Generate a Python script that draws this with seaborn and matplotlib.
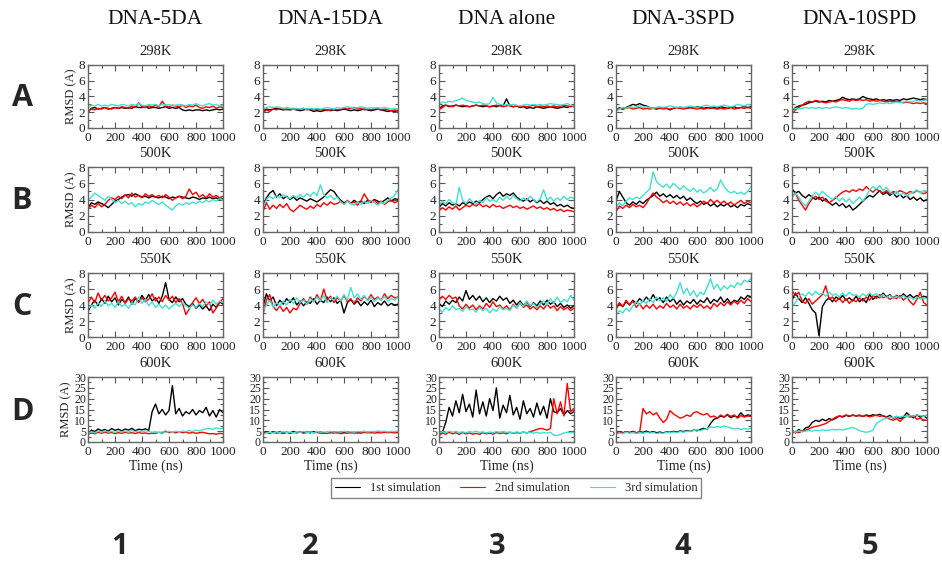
import numpy as np
import matplotlib
matplotlib.use("Agg")
import matplotlib.pyplot as plt
from matplotlib.lines import Line2D
from matplotlib.ticker import MultipleLocator
import seaborn as sns

# column / row labels
systems = ["DNA-5DA", "DNA-15DA", "DNA alone", "DNA-3SPD", "DNA-10SPD"]
temps = ["298K", "500K", "550K", "600K"]
row_letters = ["A", "B", "C", "D"]
col_numbers = ["1", "2", "3", "4", "5"]
sim_names = ["1st simulation", "2nd simulation", "3rd simulation"]

# RMSD (A), one point every 25 ns (0..1000)
# ---- 298K ----
a1_1st = [2.0, 2.5, 2.6, 2.4, 2.5, 2.6, 2.4, 2.5, 2.6, 2.5, 2.6, 2.5, 2.6, 2.5, 2.7, 2.6, 2.6, 2.7, 2.5, 2.6, 2.6, 2.5, 2.6, 2.7, 2.5, 2.6, 2.5, 2.6, 2.3, 2.2, 2.3, 2.2, 2.3, 2.3, 2.2, 2.3, 2.2, 2.3, 2.4, 2.3, 2.4]
a1_2nd = [2.2, 2.4, 2.3, 2.5, 2.4, 2.6, 2.5, 2.4, 2.6, 2.5, 2.7, 2.6, 2.5, 2.8, 2.6, 3.2, 2.7, 2.6, 2.8, 2.7, 2.9, 2.7, 3.4, 2.8, 2.7, 2.9, 2.8, 2.7, 2.9, 2.6, 2.8, 2.7, 2.9, 2.6, 2.5, 2.7, 2.6, 2.8, 2.5, 2.7, 2.6]
a1_3rd = [2.6, 2.9, 2.8, 3.0, 2.8, 2.9, 2.8, 3.0, 2.9, 2.8, 3.0, 2.9, 2.8, 3.0, 2.9, 3.1, 2.9, 2.8, 3.0, 2.9, 3.0, 2.8, 3.0, 2.9, 3.0, 2.8, 2.9, 3.0, 2.9, 2.8, 3.0, 2.9, 3.1, 2.9, 2.8, 3.0, 3.1, 2.9, 3.0, 2.8, 2.9]

a2_1st = [2.2, 2.4, 2.3, 2.4, 2.5, 2.4, 2.3, 2.4, 2.3, 2.4, 2.3, 2.2, 2.3, 2.4, 2.3, 2.1, 2.2, 2.1, 2.2, 2.3, 2.2, 2.3, 2.2, 2.3, 2.4, 2.3, 2.2, 2.3, 2.2, 2.3, 2.4, 2.3, 2.2, 2.3, 2.4, 2.3, 2.2, 2.1, 2.2, 2.1, 2.2]
a2_2nd = [1.9, 2.3, 2.1, 2.4, 2.3, 2.5, 2.4, 2.3, 2.4, 2.5, 2.3, 2.4, 2.5, 2.3, 2.4, 2.3, 2.4, 2.3, 2.4, 2.2, 2.3, 2.4, 2.3, 2.4, 2.5, 2.4, 2.5, 2.6, 2.4, 2.5, 2.3, 2.4, 2.3, 2.5, 2.4, 2.3, 2.4, 2.3, 2.2, 2.3, 2.2]
a2_3rd = [2.4, 2.6, 2.7, 2.6, 2.7, 2.6, 2.5, 2.6, 2.5, 2.4, 2.5, 2.4, 2.5, 2.4, 2.5, 2.4, 2.5, 2.4, 2.5, 2.6, 2.5, 2.4, 2.6, 2.5, 2.6, 2.7, 2.6, 2.5, 2.6, 2.7, 2.6, 2.5, 2.6, 2.5, 2.6, 2.5, 2.6, 2.5, 2.4, 2.5, 2.4]

a3_1st = [2.4, 2.8, 2.9, 2.7, 2.8, 2.9, 2.8, 2.7, 2.8, 2.7, 2.8, 2.9, 2.8, 2.7, 2.8, 2.7, 2.8, 2.7, 2.9, 2.8, 3.7, 2.8, 2.7, 2.8, 2.6, 2.7, 2.5, 2.6, 2.5, 2.7, 2.6, 2.5, 2.6, 2.7, 2.6, 2.5, 2.6, 2.7, 2.6, 2.8, 2.7]
a3_2nd = [2.3, 2.6, 2.9, 2.8, 2.7, 2.9, 2.8, 2.9, 2.8, 2.7, 2.8, 2.9, 2.8, 2.9, 2.8, 2.7, 2.8, 2.9, 2.8, 2.7, 2.8, 2.9, 2.7, 2.8, 2.7, 2.8, 2.7, 2.8, 2.9, 2.7, 2.8, 2.7, 2.8, 2.7, 2.8, 2.7, 2.8, 2.9, 2.8, 2.7, 2.8]
a3_3rd = [3.0, 3.3, 3.2, 3.4, 3.3, 3.5, 3.6, 3.8, 3.5, 3.4, 3.3, 3.2, 3.3, 3.1, 3.0, 3.1, 3.9, 3.2, 3.0, 2.9, 3.0, 2.9, 3.0, 2.9, 2.8, 2.9, 3.0, 2.9, 3.0, 2.9, 3.0, 2.9, 3.0, 3.1, 3.0, 3.0, 2.9, 3.0, 3.1, 2.9, 2.8]

a4_1st = [2.2, 2.5, 2.4, 2.6, 2.8, 3.0, 2.9, 3.1, 2.9, 2.8, 2.6, 2.5, 2.4, 2.5, 2.6, 2.5, 2.3, 2.5, 2.6, 2.5, 2.6, 2.5, 2.6, 2.5, 2.7, 2.6, 2.5, 2.6, 2.5, 2.6, 2.5, 2.7, 2.6, 2.5, 2.6, 2.7, 2.5, 2.6, 2.7, 2.6, 2.7]
a4_2nd = [2.3, 2.6, 2.4, 2.5, 2.6, 2.4, 2.5, 2.6, 2.4, 2.5, 2.4, 2.5, 2.6, 2.5, 2.4, 2.5, 2.4, 2.5, 2.6, 2.5, 2.4, 2.5, 2.6, 2.5, 2.4, 2.5, 2.4, 2.5, 2.6, 2.5, 2.4, 2.5, 2.4, 2.5, 2.6, 2.4, 2.5, 2.6, 2.5, 2.6, 2.5]
a4_3rd = [2.1, 2.4, 2.6, 2.5, 2.7, 2.6, 2.7, 2.8, 2.6, 2.7, 2.6, 2.5, 2.6, 2.7, 2.6, 2.7, 2.8, 2.7, 2.6, 2.7, 2.6, 2.7, 2.8, 2.7, 2.6, 2.7, 2.8, 2.9, 2.7, 2.8, 2.7, 2.8, 2.9, 2.8, 2.7, 2.8, 3.0, 2.9, 2.8, 3.0, 2.9]

a5_1st = [2.2, 2.6, 2.8, 2.9, 3.0, 3.2, 3.3, 3.4, 3.3, 3.4, 3.3, 3.5, 3.4, 3.5, 3.6, 3.9, 3.7, 3.6, 3.7, 3.6, 3.7, 4.0, 3.8, 3.7, 3.6, 3.7, 3.5, 3.6, 3.5, 3.6, 3.5, 3.6, 3.5, 3.7, 3.6, 3.7, 3.8, 3.7, 3.6, 3.7, 3.6]
a5_2nd = [1.8, 2.3, 2.6, 2.9, 3.2, 3.4, 3.3, 3.5, 3.4, 3.3, 3.2, 3.3, 3.4, 3.3, 3.5, 3.6, 3.5, 3.4, 3.6, 3.5, 3.6, 3.5, 3.6, 3.4, 3.5, 3.4, 3.5, 3.4, 3.3, 3.4, 3.3, 3.4, 3.3, 3.2, 3.3, 3.2, 3.1, 3.2, 3.1, 3.2, 3.1]
a5_3rd = [2.4, 2.5, 2.4, 2.5, 2.6, 2.5, 2.6, 2.5, 2.6, 2.5, 2.6, 2.5, 2.6, 2.7, 2.6, 2.5, 2.6, 2.5, 2.4, 2.5, 2.4, 2.5, 3.0, 3.1, 3.0, 3.1, 3.2, 3.1, 3.2, 3.1, 3.2, 3.3, 3.2, 3.3, 3.4, 3.3, 3.4, 3.5, 3.4, 3.5, 3.6]

# ---- 500K ----
b1_1st = [3.0, 3.6, 3.4, 3.7, 3.5, 3.3, 3.0, 3.4, 3.8, 4.0, 4.3, 4.5, 4.6, 4.4, 4.7, 4.5, 4.3, 4.4, 4.2, 4.4, 4.3, 4.2, 4.4, 4.3, 4.1, 4.3, 4.2, 4.4, 4.3, 4.2, 4.1, 4.3, 4.2, 4.0, 4.2, 4.1, 4.3, 4.1, 4.2, 4.0, 4.1]
b1_2nd = [2.8, 3.3, 3.0, 3.5, 3.1, 3.4, 3.9, 4.2, 4.0, 4.4, 4.1, 4.6, 4.2, 4.8, 4.3, 4.5, 4.2, 4.7, 4.4, 4.6, 4.3, 4.5, 4.2, 4.6, 4.3, 3.9, 4.2, 4.4, 4.1, 4.4, 5.3, 4.6, 4.9, 4.3, 4.6, 4.2, 4.7, 4.3, 4.5, 4.2, 4.4]
b1_3rd = [3.9, 4.3, 4.8, 4.5, 4.2, 3.9, 4.4, 4.0, 3.6, 3.9, 3.5, 3.8, 3.4, 3.6, 3.1, 3.5, 3.3, 3.7, 3.5, 3.9, 3.6, 3.4, 3.7, 3.3, 3.0, 2.7, 3.2, 3.5, 3.3, 3.6, 3.4, 3.7, 3.5, 3.8, 3.6, 3.9, 3.7, 4.0, 3.8, 4.1, 3.9]

b2_1st = [3.2, 4.2, 4.8, 5.1, 4.3, 4.7, 4.1, 4.4, 4.0, 4.3, 3.9, 4.2, 4.0, 3.8, 4.1, 3.9, 3.7, 4.0, 4.3, 4.8, 5.2, 5.0, 4.4, 3.9, 3.6, 3.8, 3.5, 3.9, 3.6, 3.8, 3.5, 3.9, 3.7, 4.0, 3.8, 3.6, 3.9, 4.2, 3.8, 4.1, 4.0]
b2_2nd = [2.5, 3.6, 2.8, 3.3, 2.9, 3.4, 3.0, 3.5, 2.8, 2.5, 2.9, 3.3, 3.0, 2.8, 3.2, 2.9, 3.4, 3.1, 3.6, 3.3, 3.7, 3.4, 3.5, 3.8, 3.4, 3.9, 3.5, 3.7, 3.3, 3.8, 4.7, 4.0, 3.6, 3.9, 3.5, 3.8, 3.4, 3.7, 3.9, 3.6, 3.8]
b2_3rd = [3.0, 4.0, 4.4, 4.1, 4.5, 4.2, 4.6, 4.3, 4.1, 4.5, 4.2, 4.6, 4.3, 4.7, 4.4, 4.9, 4.5, 5.8, 4.6, 4.2, 4.5, 4.0, 4.3, 3.7, 3.4, 3.8, 3.5, 3.3, 3.7, 3.4, 3.8, 3.5, 3.9, 3.6, 3.3, 3.7, 3.5, 3.9, 4.2, 4.5, 5.2]

b3_1st = [3.0, 3.5, 3.2, 3.6, 3.3, 3.5, 3.2, 3.6, 3.4, 3.7, 3.5, 3.8, 3.6, 4.0, 4.3, 4.5, 4.1, 4.6, 4.9, 4.4, 4.7, 4.5, 4.8, 4.3, 4.0, 3.8, 4.1, 3.7, 4.0, 3.6, 3.9, 3.5, 3.8, 3.4, 3.6, 3.2, 3.4, 3.1, 3.3, 3.0, 2.9]
b3_2nd = [2.6, 3.0, 2.7, 3.1, 2.8, 3.2, 2.7, 3.0, 3.3, 3.1, 3.4, 3.2, 3.5, 3.1, 3.3, 3.0, 3.4, 3.1, 3.2, 2.9, 3.1, 3.3, 3.0, 3.2, 2.9, 3.1, 2.8, 3.0, 3.2, 2.9, 3.1, 2.8, 3.0, 2.7, 2.9, 2.6, 2.8, 2.5, 2.7, 2.6, 2.5]
b3_3rd = [3.3, 3.8, 3.5, 4.0, 3.6, 3.4, 5.5, 3.9, 3.5, 4.1, 3.7, 3.4, 3.9, 3.6, 4.2, 3.8, 4.0, 3.7, 4.3, 3.9, 4.4, 4.0, 4.5, 4.1, 3.8, 4.2, 3.9, 4.4, 4.0, 3.7, 4.1, 5.2, 3.9, 4.3, 3.8, 4.2, 3.9, 4.4, 4.0, 4.3, 4.1]

b4_1st = [3.8, 5.0, 4.3, 3.6, 3.3, 3.7, 3.4, 3.8, 3.5, 3.9, 4.2, 4.5, 4.9, 4.4, 4.7, 4.3, 4.6, 4.2, 4.5, 4.1, 4.4, 3.9, 4.2, 3.8, 3.5, 3.8, 3.4, 3.6, 3.2, 3.5, 3.1, 3.4, 3.2, 3.5, 3.1, 3.3, 3.0, 3.4, 3.2, 3.5, 3.3]
b4_2nd = [2.5, 3.2, 2.9, 3.3, 3.0, 3.4, 3.1, 3.3, 3.0, 3.5, 4.2, 4.8, 4.3, 4.0, 3.6, 3.9, 3.5, 3.8, 3.4, 3.7, 3.3, 3.6, 3.2, 3.5, 3.1, 3.4, 3.8, 3.5, 4.0, 3.6, 3.9, 3.5, 3.8, 3.4, 3.7, 3.3, 3.6, 3.9, 3.5, 3.8, 3.6]
b4_3rd = [3.0, 3.6, 3.2, 3.8, 4.2, 4.0, 4.3, 4.1, 4.5, 4.9, 5.3, 7.4, 6.2, 5.8, 5.5, 5.9, 5.4, 6.0, 5.6, 5.2, 5.7, 5.3, 5.0, 5.4, 4.9, 5.2, 4.8, 5.1, 5.5, 5.0, 5.3, 6.4, 5.6, 5.1, 4.8, 5.0, 4.7, 4.9, 4.6, 5.0, 5.6]

b5_1st = [5.3, 4.8, 5.0, 4.5, 4.2, 4.6, 4.3, 4.0, 4.3, 3.8, 4.1, 3.6, 3.3, 3.6, 3.2, 3.5, 3.0, 3.3, 2.7, 3.0, 3.4, 3.8, 4.2, 4.5, 4.3, 4.7, 5.1, 4.6, 4.9, 4.5, 4.8, 4.3, 4.6, 4.2, 4.5, 4.0, 4.3, 3.9, 4.2, 3.8, 4.0]
b5_2nd = [4.4, 4.8, 3.9, 3.3, 2.7, 3.5, 4.1, 4.4, 4.0, 4.3, 3.8, 3.6, 3.9, 4.2, 4.6, 4.9, 5.1, 4.9, 5.2, 5.0, 5.3, 5.1, 5.6, 5.2, 4.9, 5.3, 5.0, 4.8, 5.1, 4.7, 5.0, 4.8, 5.1, 4.9, 4.7, 5.0, 4.8, 5.1, 4.9, 4.7, 4.9]
b5_3rd = [4.2, 4.8, 4.3, 3.6, 3.2, 3.8, 4.4, 4.9, 4.5, 5.0, 4.6, 4.3, 4.0, 4.4, 3.8, 4.2, 3.7, 4.1, 3.5, 3.9, 4.3, 3.8, 4.4, 5.2, 5.6, 5.3, 5.7, 5.1, 5.5, 4.9, 4.6, 5.0, 4.5, 4.8, 4.4, 4.7, 4.9, 5.2, 4.8, 5.1, 5.0]

# ---- 550K ----
c1_1st = [3.2, 4.0, 4.6, 3.9, 4.8, 4.2, 5.1, 4.4, 4.9, 4.0, 4.7, 4.3, 5.0, 4.1, 4.8, 4.4, 5.2, 4.6, 5.3, 4.5, 4.9, 4.2, 5.1, 6.8, 4.7, 4.3, 5.0, 4.4, 4.8, 4.1, 3.8, 4.2, 3.6, 4.0, 3.5, 3.9, 3.3, 4.1, 3.7, 4.4, 4.1]
c1_2nd = [4.2, 5.0, 4.3, 5.5, 4.6, 5.2, 4.5, 4.9, 5.6, 4.4, 5.1, 4.2, 4.8, 4.5, 5.0, 4.3, 4.9, 4.4, 4.7, 5.4, 4.5, 5.0, 4.4, 5.2, 4.6, 5.1, 4.3, 4.8, 4.2, 2.8, 3.5, 4.3, 4.9, 4.2, 4.7, 3.9, 4.4, 3.0, 3.6, 4.3, 4.8]
c1_3rd = [3.5, 4.0, 3.6, 4.3, 3.8, 4.5, 3.9, 4.2, 3.7, 4.4, 3.8, 4.1, 3.6, 4.3, 4.0, 5.0, 4.2, 4.7, 3.9, 4.4, 3.7, 4.1, 3.6, 4.0, 3.5, 3.9, 4.2, 3.8, 4.3, 3.9, 3.6, 4.0, 3.7, 4.2, 3.8, 4.4, 4.0, 4.6, 4.1, 4.5, 4.3]

c2_1st = [3.8, 5.4, 4.5, 5.0, 3.9, 4.6, 4.1, 4.8, 4.3, 4.9, 4.0, 4.5, 3.9, 4.4, 4.2, 4.8, 4.1, 4.6, 4.3, 5.0, 4.4, 4.9, 4.2, 4.6, 3.0, 4.3, 4.7, 4.1, 4.5, 3.9, 4.4, 4.0, 4.6, 3.8, 4.3, 4.0, 4.5, 3.9, 4.2, 4.0, 4.1]
c2_2nd = [2.8, 4.6, 5.3, 3.8, 3.3, 3.9, 3.2, 3.7, 3.0, 3.6, 3.4, 4.2, 4.8, 4.1, 5.0, 4.4, 5.3, 4.5, 6.0, 4.6, 5.1, 4.3, 4.9, 4.5, 5.2, 4.4, 4.8, 4.2, 4.9, 4.5, 5.1, 4.6, 5.3, 4.7, 5.0, 4.6, 5.4, 4.8, 5.2, 4.9, 5.0]
c2_3rd = [3.3, 4.0, 4.6, 3.7, 4.3, 3.9, 4.5, 4.0, 4.7, 4.2, 4.9, 4.3, 4.6, 4.1, 4.8, 4.4, 5.0, 4.5, 5.2, 4.3, 4.9, 4.6, 5.1, 4.5, 5.3, 4.6, 6.2, 4.9, 5.4, 4.7, 5.2, 4.5, 5.0, 4.4, 4.9, 4.6, 5.1, 4.5, 4.8, 4.6, 5.0]

c3_1st = [4.2, 3.8, 4.5, 4.1, 4.6, 4.3, 5.0, 4.5, 5.8, 4.7, 5.2, 4.6, 5.1, 4.4, 4.9, 4.3, 4.8, 4.5, 5.1, 4.6, 4.9, 4.2, 4.6, 4.0, 4.5, 3.9, 4.4, 3.8, 4.3, 3.9, 4.5, 4.0, 4.6, 4.1, 4.4, 3.8, 4.2, 3.7, 4.0, 3.6, 3.9]
c3_2nd = [4.6, 5.1, 4.7, 5.2, 4.8, 5.0, 3.9, 3.5, 4.1, 3.6, 4.0, 3.4, 3.9, 3.5, 4.2, 3.7, 4.4, 3.8, 4.0, 3.5, 3.9, 3.4, 4.1, 3.6, 4.3, 3.7, 4.0, 3.5, 3.8, 3.4, 3.9, 3.5, 4.1, 3.6, 3.9, 3.3, 3.8, 3.4, 3.7, 3.3, 3.6]
c3_3rd = [3.5, 3.1, 3.7, 3.3, 3.9, 3.4, 3.6, 3.2, 3.8, 3.4, 3.5, 3.1, 3.7, 3.3, 3.6, 3.0, 3.5, 3.2, 3.8, 3.4, 3.6, 3.3, 4.0, 3.6, 4.3, 3.8, 4.5, 3.9, 4.2, 3.7, 4.1, 4.5, 4.0, 4.8, 4.2, 5.0, 4.3, 4.7, 4.4, 5.2, 4.6]

c4_1st = [3.5, 4.2, 3.8, 4.4, 4.0, 4.6, 4.2, 4.8, 4.4, 5.0, 4.5, 5.3, 4.6, 4.9, 4.3, 5.0, 4.4, 4.8, 4.1, 4.6, 4.0, 4.5, 4.2, 4.7, 4.1, 4.6, 4.3, 4.9, 4.2, 4.7, 4.4, 5.0, 4.3, 4.8, 4.2, 4.6, 4.4, 5.0, 4.7, 5.2, 5.0]
c4_2nd = [3.5, 4.3, 3.8, 4.6, 4.0, 4.5, 3.7, 4.2, 3.5, 4.0, 3.6, 4.1, 3.5, 3.9, 3.6, 4.2, 3.7, 4.0, 3.5, 4.1, 3.6, 3.9, 3.5, 4.0, 3.7, 4.1, 3.6, 3.9, 3.5, 4.2, 3.8, 4.3, 3.9, 4.4, 4.0, 4.5, 4.1, 4.6, 4.2, 4.8, 4.4]
c4_3rd = [2.8, 3.3, 3.0, 3.6, 3.2, 3.9, 4.4, 4.0, 4.6, 4.2, 4.8, 4.3, 5.0, 4.5, 4.9, 4.4, 5.3, 4.8, 5.6, 6.8, 5.4, 6.1, 5.2, 5.8, 5.0, 5.6, 5.3, 6.2, 7.3, 6.0, 6.6, 5.8, 6.4, 6.0, 6.5, 6.2, 6.8, 6.5, 7.1, 6.9, 7.3]

c5_1st = [4.6, 5.5, 4.8, 4.3, 4.9, 4.2, 3.4, 3.0, 0.2, 3.8, 4.5, 4.9, 4.4, 5.0, 4.7, 5.2, 4.6, 4.9, 4.5, 5.1, 4.4, 4.8, 4.3, 5.3, 4.7, 5.1, 4.9, 5.5, 5.0, 5.3, 4.8, 5.2, 4.9, 5.4, 5.0, 5.3, 4.9, 5.2, 4.8, 5.1, 5.0]
c5_2nd = [5.8, 5.2, 5.6, 4.5, 4.2, 4.8, 4.1, 4.5, 4.9, 5.3, 6.4, 4.7, 5.0, 4.4, 4.9, 4.3, 4.8, 4.2, 4.7, 4.4, 4.9, 4.5, 5.0, 4.6, 5.2, 4.8, 5.3, 4.9, 5.1, 4.7, 5.0, 4.8, 5.2, 4.6, 5.0, 4.4, 4.0, 4.7, 5.6, 4.3, 4.0]
c5_3rd = [3.8, 4.3, 5.0, 5.4, 5.1, 5.6, 5.2, 5.7, 5.3, 5.5, 5.1, 5.6, 5.2, 5.4, 5.0, 5.5, 5.1, 5.6, 5.2, 5.3, 5.0, 5.4, 5.1, 5.5, 5.2, 5.4, 5.0, 5.3, 4.9, 5.2, 4.8, 5.1, 4.9, 5.2, 4.8, 5.0, 4.7, 5.0, 4.8, 4.9, 4.8]

# ---- 600K ----
d1_1st = [3.5, 5.5, 4.8, 6.0, 5.2, 5.8, 5.0, 6.2, 5.4, 5.9, 5.1, 6.0, 5.5, 6.3, 5.2, 5.9, 5.6, 6.1, 5.3, 14.0, 17.5, 13.0, 15.0, 12.5, 14.5, 26.0, 13.0, 15.5, 12.0, 14.0, 13.0, 15.0, 12.5, 14.5, 13.5, 16.0, 12.0, 14.5, 11.5, 15.0, 13.5]
d1_2nd = [3.5, 4.2, 3.8, 4.5, 4.0, 4.6, 4.1, 4.4, 3.9, 4.3, 4.0, 4.5, 4.1, 4.3, 3.9, 4.4, 4.0, 4.2, 3.8, 4.1, 4.0, 4.5, 4.1, 5.0, 4.3, 4.6, 4.2, 4.8, 4.3, 4.5, 4.1, 4.4, 4.0, 4.3, 4.5, 4.1, 3.8, 3.9, 3.6, 4.0, 3.8]
d1_3rd = [4.0, 4.8, 4.3, 5.0, 4.5, 5.2, 4.6, 4.9, 4.4, 5.1, 4.7, 5.0, 4.5, 5.3, 4.8, 5.1, 4.6, 5.2, 4.9, 4.5, 4.8, 4.3, 4.7, 4.4, 4.9, 4.5, 5.0, 4.6, 5.1, 4.7, 5.3, 4.8, 5.5, 5.1, 5.8, 6.0, 6.3, 5.9, 6.5, 6.1, 6.4]

d2_1st = [4.0, 4.6, 4.2, 4.8, 4.3, 4.7, 4.1, 4.5, 4.2, 4.9, 4.4, 4.7, 4.3, 4.6, 4.2, 4.8, 4.4, 4.6, 4.1, 4.5, 4.3, 4.7, 4.2, 4.6, 4.4, 4.8, 4.3, 4.5, 4.2, 4.7, 4.4, 4.6, 4.3, 4.8, 4.5, 4.7, 4.4, 4.6, 4.5, 4.7, 4.6]
d2_2nd = [3.8, 4.4, 4.0, 4.6, 4.1, 4.3, 3.9, 4.5, 4.0, 4.4, 4.2, 4.6, 4.1, 4.3, 4.8, 4.2, 4.5, 4.0, 4.3, 3.9, 4.4, 4.1, 4.5, 3.8, 4.2, 4.0, 4.4, 4.1, 4.3, 4.0, 4.5, 4.2, 4.4, 4.1, 4.3, 4.2, 4.5, 4.3, 4.4, 4.2, 4.3]
d2_3rd = [3.5, 4.2, 4.5, 4.1, 4.7, 4.3, 4.8, 4.4, 4.6, 4.2, 4.7, 4.5, 4.9, 4.4, 4.6, 4.3, 4.8, 4.5, 4.7, 4.4, 4.9, 4.6, 4.8, 4.5, 5.0, 4.6, 4.8, 4.5, 4.9, 4.7, 5.0, 4.6, 4.9, 4.7, 5.1, 4.8, 5.0, 4.7, 4.9, 4.8, 5.0]

d3_1st = [3.0, 4.5, 9.0, 16.0, 12.0, 19.0, 13.5, 22.0, 14.0, 17.5, 11.5, 24.0, 13.0, 18.5, 12.0, 20.0, 14.5, 25.0, 11.0, 17.0, 13.5, 21.5, 12.5, 16.0, 10.5, 19.0, 13.0, 15.5, 11.5, 18.0, 12.5, 16.5, 11.0, 20.0, 14.0, 13.5, 15.5, 12.5, 14.5, 13.0, 14.0]
d3_2nd = [3.0, 4.2, 3.6, 4.5, 3.8, 4.3, 3.5, 4.4, 3.7, 4.2, 3.6, 4.0, 3.5, 4.3, 3.8, 4.1, 3.6, 4.4, 3.9, 4.2, 3.8, 4.5, 4.0, 4.3, 4.1, 4.6, 4.2, 4.8, 5.2, 5.8, 6.3, 6.0, 5.5, 6.2, 20.0, 13.0, 18.5, 12.0, 27.0, 14.0, 15.5]
d3_3rd = [4.0, 4.8, 4.3, 5.0, 4.5, 4.9, 4.4, 4.7, 4.3, 4.8, 4.5, 5.0, 4.4, 4.7, 4.2, 4.6, 4.3, 4.8, 4.5, 4.9, 4.4, 4.6, 4.2, 4.7, 4.3, 4.6, 4.2, 4.5, 4.1, 4.4, 4.0, 4.3, 4.1, 4.5, 3.2, 3.0, 3.4, 4.2, 4.5, 4.3, 4.4]

d4_1st = [4.0, 4.6, 4.2, 4.8, 4.4, 4.9, 4.3, 4.7, 4.5, 5.0, 4.4, 4.8, 4.3, 4.6, 4.2, 4.7, 4.5, 4.9, 4.6, 5.1, 4.8, 5.3, 4.9, 5.5, 5.2, 5.8, 6.3, 6.0, 8.5, 10.5, 11.0, 12.0, 11.5, 12.5, 11.2, 12.0, 11.5, 13.5, 11.8, 12.5, 12.2]
d4_2nd = [4.0, 4.5, 4.2, 4.7, 4.3, 4.6, 4.1, 4.4, 15.5, 13.0, 14.0, 12.5, 13.5, 11.0, 9.0, 10.5, 14.5, 13.0, 12.0, 11.0, 11.5, 12.5, 11.8, 13.5, 14.0, 13.0, 12.5, 13.2, 11.5, 12.0, 11.0, 12.5, 11.5, 12.8, 11.8, 12.5, 11.0, 12.2, 11.5, 12.0, 11.8]
d4_3rd = [3.5, 4.2, 3.8, 4.5, 4.0, 4.4, 3.9, 4.3, 4.0, 4.5, 4.1, 4.4, 3.9, 4.2, 4.0, 4.5, 4.2, 4.6, 4.3, 4.8, 4.5, 5.0, 4.8, 5.3, 5.6, 5.2, 5.8, 6.2, 7.0, 6.6, 7.2, 6.8, 7.4, 7.0, 6.5, 6.0, 6.4, 5.8, 6.2, 5.9, 6.3]

d5_1st = [5.5, 4.2, 5.8, 4.8, 6.5, 7.0, 9.0, 10.0, 9.5, 10.5, 9.8, 10.8, 10.2, 11.0, 12.0, 11.5, 12.3, 11.8, 12.5, 12.0, 12.2, 11.8, 12.5, 12.0, 12.6, 12.2, 12.8, 12.0, 11.5, 12.3, 11.0, 11.8, 10.8, 11.5, 13.5, 12.0, 11.2, 12.5, 11.5, 12.0, 11.0]
d5_2nd = [4.0, 4.8, 4.3, 5.0, 5.5, 6.0, 6.8, 7.2, 7.5, 8.0, 8.5, 9.5, 10.5, 11.5, 12.0, 11.8, 12.5, 12.0, 12.3, 12.0, 12.5, 11.8, 12.2, 11.6, 12.0, 12.4, 11.8, 12.2, 11.5, 10.5, 10.0, 10.8, 9.5, 11.0, 12.0, 11.5, 12.3, 10.5, 11.0, 10.2, 10.0]
d5_3rd = [5.0, 4.5, 5.2, 4.8, 5.0, 5.3, 5.0, 5.4, 5.2, 5.6, 5.3, 5.5, 5.8, 5.6, 5.8, 5.5, 6.0, 6.3, 6.8, 6.0, 5.2, 4.8, 4.5, 4.8, 5.5, 8.5, 9.5, 10.5, 11.0, 11.5, 11.2, 11.8, 11.5, 12.0, 11.6, 12.2, 12.0, 12.5, 12.2, 11.8, 12.5]

panels = [
    [(a1_1st, a1_2nd, a1_3rd), (a2_1st, a2_2nd, a2_3rd), (a3_1st, a3_2nd, a3_3rd), (a4_1st, a4_2nd, a4_3rd), (a5_1st, a5_2nd, a5_3rd)],
    [(b1_1st, b1_2nd, b1_3rd), (b2_1st, b2_2nd, b2_3rd), (b3_1st, b3_2nd, b3_3rd), (b4_1st, b4_2nd, b4_3rd), (b5_1st, b5_2nd, b5_3rd)],
    [(c1_1st, c1_2nd, c1_3rd), (c2_1st, c2_2nd, c2_3rd), (c3_1st, c3_2nd, c3_3rd), (c4_1st, c4_2nd, c4_3rd), (c5_1st, c5_2nd, c5_3rd)],
    [(d1_1st, d1_2nd, d1_3rd), (d2_1st, d2_2nd, d2_3rd), (d3_1st, d3_2nd, d3_3rd), (d4_1st, d4_2nd, d4_3rd), (d5_1st, d5_2nd, d5_3rd)],
]

colors = ["#000000", "#ff0000", "#40e0d0"]

sns.set_theme(style="ticks")
plt.rcParams["font.family"] = ["Liberation Serif", "DejaVu Serif"]

W, H = 942, 562
fig = plt.figure(figsize=(W / 100, H / 100), dpi=100)

col_left = [88, 263, 439, 616, 792]
ax_w = 135
row_top = [65, 167, 273, 377]
row_bot = [128, 232, 337, 442]

for r in range(4):
    for c in range(5):
        x0 = col_left[c] / W
        y0 = 1 - row_bot[r] / H
        h = (row_bot[r] - row_top[r]) / H
        ax = fig.add_axes([x0, y0, ax_w / W, h])
        for s in range(3):
            y = panels[r][c][s]
            t = np.linspace(0, 1000, len(y))
            sns.lineplot(x=t, y=y, color=colors[s], lw=1.0, ax=ax)
        ax.set_xlim(0, 1000)
        ax.xaxis.set_major_locator(MultipleLocator(200))
        ax.xaxis.set_minor_locator(MultipleLocator(100))
        if r < 3:
            ax.set_ylim(0, 8)
            ax.yaxis.set_major_locator(MultipleLocator(2))
            ax.yaxis.set_minor_locator(MultipleLocator(1))
        else:
            ax.set_ylim(0, 30)
            ax.yaxis.set_major_locator(MultipleLocator(5))
            ax.yaxis.set_minor_locator(MultipleLocator(2.5))
        ax.tick_params(which="both", direction="in", top=True, right=True,
                       colors="#555555", labelcolor="#222222", labelsize=9.5,
                       width=0.8)
        ax.tick_params(axis="x", pad=3)
        ax.tick_params(axis="y", pad=2)
        ax.tick_params(which="major", length=4)
        ax.tick_params(which="minor", length=2)
        if r == 3:
            ax.tick_params(axis="y", labelsize=8.5, pad=1.5)
        for sp in ax.spines.values():
            sp.set_color("#666666")
            sp.set_linewidth(1.0)
        ax.set_xlabel("Time (ns)" if r == 3 else "", fontsize=10, labelpad=1, color="#222222")
        ax.set_ylabel("RMSD (A)" if c == 0 else "", fontsize=9, labelpad=1, color="#222222")
        ax.set_title(temps[r], fontsize=10.5, pad=7, color="#222222")

# column headers
for c in range(5):
    xc = (col_left[c] + ax_w / 2) / W
    fig.text(xc, 1 - 20 / H, systems[c], ha="center", va="center", fontsize=15.5, color="#111111")

# row letters and column numbers
for r in range(4):
    yc = 1 - ((row_top[r] + row_bot[r]) / 2 + 2) / H
    fig.text(22 / W, yc, row_letters[r], ha="center", va="center", fontsize=22,
             fontweight="bold", family=["Open Sans", "DejaVu Sans"])
for c, xn in enumerate([120, 310, 497, 683, 870]):
    fig.text(xn / W, 1 - 546 / H, col_numbers[c], ha="center", va="center", fontsize=21,
             fontweight="bold", family=["Open Sans", "DejaVu Sans"])

handles = [Line2D([], [], color=colors[s], lw=0.8) for s in range(3)]
leg = fig.legend(handles, sim_names, loc="center", bbox_to_anchor=(516 / W, 1 - 488 / H),
                 ncol=3, fontsize=9, frameon=True, fancybox=False, edgecolor="#666666",
                 handlelength=2.0, columnspacing=1.6, borderpad=0.3, handletextpad=0.8)
leg.get_frame().set_linewidth(1.0)

fig.savefig("out.png", dpi=100)
